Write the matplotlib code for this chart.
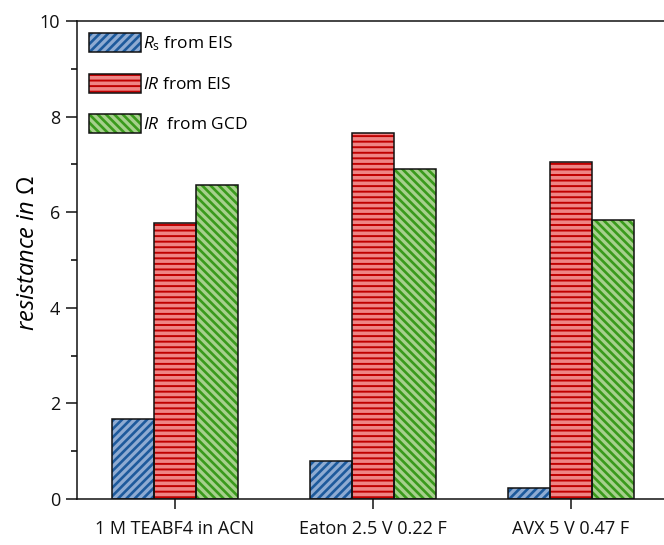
import numpy as np
import matplotlib
matplotlib.use("Agg")
import matplotlib.pyplot as plt
import matplotlib.legend_handler
from matplotlib.ticker import MultipleLocator

plt.rcParams["font.family"] = ["Open Sans", "DejaVu Sans"]
plt.rcParams["mathtext.fontset"] = "custom"
plt.rcParams["mathtext.rm"] = "Open Sans"
plt.rcParams["mathtext.it"] = "Open Sans:italic"
plt.rcParams["mathtext.bf"] = "Open Sans:bold"

# data
categories = ["1 M TEABF4 in ACN", "Eaton 2.5 V 0.22 F", "AVX 5 V 0.47 F"]
rs_eis = [1.68, 0.79, 0.24]
ir_eis = [5.78, 7.65, 7.04]
ir_gcd = [6.57, 6.90, 5.84]
series_labels = [r"$R_\mathrm{s}$ from EIS", r"$IR$ from EIS", r"$IR$  from GCD"]

fills = ["#8eabd2", "#ef8585", "#a6d08c"]
hatch_colors = ["#1d5a9c", "#c00000", "#3a9a1c"]
hatches = ["////", "---", "\\\\\\\\"]
hatch_widths = [1.9, 1.4, 1.9]

fig = plt.figure(figsize=(6.64, 5.45), dpi=100)
ax = fig.add_axes([77 / 664, 46 / 545, 593 / 664, 478 / 545])

x = np.arange(len(categories))
w = 0.212
handles = []
for i, vals in enumerate([rs_eis, ir_eis, ir_gcd]):
    pos = x + (i - 1) * w
    with plt.rc_context({"hatch.linewidth": hatch_widths[i]}):
        ax.bar(pos, vals, width=w, color=fills[i], edgecolor=hatch_colors[i],
               hatch=hatches[i], linewidth=0, zorder=2)
        h = plt.Rectangle((0, 0), 1, 1, facecolor=fills[i],
                          edgecolor=hatch_colors[i], hatch=hatches[i],
                          linewidth=0)
    ax.bar(pos, vals, width=w, fill=False, edgecolor="#111111",
           linewidth=1.1, zorder=3)
    h.hatch_lw = hatch_widths[i]
    handles.append(h)


class FramedHandler(matplotlib.legend_handler.HandlerPatch):
    def create_artists(self, legend, orig_handle, xdescent, ydescent,
                       width, height, fontsize, trans):
        with plt.rc_context({"hatch.linewidth": orig_handle.hatch_lw}):
            p = plt.Rectangle((-xdescent, -ydescent), width, height,
                              facecolor=orig_handle.get_facecolor(),
                              edgecolor=orig_handle.get_edgecolor(),
                              hatch=orig_handle.get_hatch(), linewidth=0,
                              transform=trans)
        b = plt.Rectangle((-xdescent, -ydescent), width, height,
                          fill=False, edgecolor="#111111", linewidth=1.1,
                          transform=trans)
        return [p, b]


ax.set_xlim(-0.495, 2.5)
ax.set_ylim(0, 10)
ax.set_xticks(x)
ax.set_xticklabels(categories, fontsize=13.5)
ax.yaxis.set_major_locator(MultipleLocator(2))
ax.yaxis.set_minor_locator(MultipleLocator(1))
ax.tick_params(axis="both", which="major", direction="out", length=7,
               width=1.1, labelsize=13, colors="#111111")
ax.tick_params(axis="y", which="major", length=8, pad=4)
ax.tick_params(axis="y", which="minor", direction="out", length=4, width=1.1)
ax.tick_params(axis="x", which="major", pad=8)
for s in ax.spines.values():
    s.set_linewidth(1.1)
    s.set_color("#111111")

ax.set_ylabel(r"resistance in $\Omega$", fontsize=17, style="italic")
ax.yaxis.set_label_coords(-0.063, 0.515)

leg = ax.legend(handles, series_labels, loc="upper left",
                bbox_to_anchor=(0.0, 1.0), frameon=False, fontsize=12.5,
                handlelength=3.0, handleheight=1.3, handletextpad=0.12,
                labelspacing=1.2, borderaxespad=0.3,
                handler_map={plt.Rectangle: FramedHandler()})

fig.savefig("out.png", dpi=100)
